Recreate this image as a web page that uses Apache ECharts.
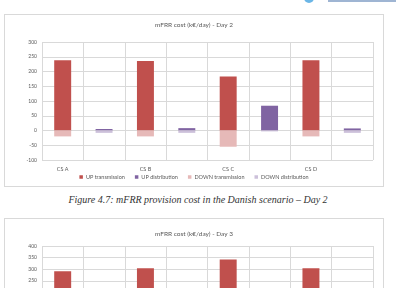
<!DOCTYPE html>
<html>
<head>
<meta charset="utf-8">
<script src="https://cdn.jsdelivr.net/npm/echarts@6/dist/echarts.min.js"></script>
<style>
  html, body { margin: 0; padding: 0; width: 396px; height: 288px; overflow: hidden; background: #fff; }
  .box { position: absolute; left: 4px; width: 378px; border: 1px solid #d9d9d9; background: #fff; }
  #chartDay2 { top: 14px; height: 171px; }
  #chartDay3 { top: 218px; height: 175px; }
  #caption { position: absolute; left: 0; width: 396px; top: 194px; text-align: center;
    font-family: "Liberation Serif", serif; font-style: italic; font-size: 10px; color: #333; }
  #logoDot { position: absolute; left: 304px; top: -7px; width: 10px; height: 10px; border-radius: 50%; background: #6bb6e6; }
  #logoText { position: absolute; left: 328px; top: 0; width: 68px; height: 2px; background: #2b5c9e; opacity: 0.45; }
</style>
</head>
<body>
<div id="logoDot"></div>
<div id="logoText"></div>
<div id="chartDay2" class="box"></div>
<div id="caption">Figure 4.7: mFRR provision cost in the Danish scenario – Day 2</div>
<div id="chartDay3" class="box"></div>
<script>
// 站点（每个站点两列：输电 / 配电）
const sites = ['CS A', 'CS B', 'CS C', 'CS D'];
const seriesNames = ['UP transmission', 'UP distribution', 'DOWN transmission', 'DOWN distribution'];
const seriesColors = ['#c0504d', '#8064a2', '#e6b9b8', '#ccc0da'];

// Day 2 数据 (k€/day)
const day2UpTransmission = [238, 236, 183, 238];
const day2UpDistribution = [5, 8, 84, 7];
const day2DownTransmission = [-20, -20, -55, -20];
const day2DownDistribution = [-8, -8, -3, -8];

// Day 3 数据 (k€/day)，下半部分在图片外
const day3UpTransmission = [291, 304, 342, 304];
const day3UpDistribution = [5, 8, 60, 7];
const day3DownTransmission = [-20, -20, -50, -20];
const day3DownDistribution = [-8, -8, -3, -8];

// 类目：每个站点占两列，标签只写在第一列
const categories = [];
sites.forEach(s => { categories.push(s); categories.push(''); });

// 把站点数据放到对应的列上（col 0 = 输电, col 1 = 配电）
function spread(values, col) {
  const out = [];
  values.forEach(v => {
    if (col === 0) { out.push(v); out.push('-'); }
    else { out.push('-'); out.push(v); }
  });
  return out;
}

const textColor = '#595959';
const gridColor = '#d9d9d9';
const font = 'Lato, "Open Sans", sans-serif';

function buildOption(title, up1, up2, down1, down2, yMin, yMax, gridTop, gridHeight, titleTop, showLegend) {
  const cols = [spread(up1, 0), spread(up2, 1), spread(down1, 0), spread(down2, 1)];
  return {
    animation: false,
    title: {
      text: title,
      left: 'center',
      top: titleTop,
      padding: 0,
      textStyle: { fontSize: 6.5, fontWeight: 'normal', color: textColor, fontFamily: font }
    },
    legend: {
      show: showLegend,
      bottom: 1,
      left: 'center',
      itemWidth: 3.5,
      itemHeight: 3.5,
      itemGap: 10,
      icon: 'rect',
      textStyle: { fontSize: 5.5, color: textColor, fontFamily: font, padding: [0, 0, 0, -2] },
      data: seriesNames
    },
    grid: { left: 37, right: 10, top: gridTop, height: gridHeight },
    xAxis: {
      type: 'category',
      data: categories,
      boundaryGap: true,
      axisLine: { show: false, onZero: false },
      axisTick: { show: false },
      axisLabel: { fontSize: 5.5, color: textColor, fontFamily: font, margin: 6, interval: 0 },
      splitLine: { show: true, interval: 0, lineStyle: { color: gridColor, width: 1 } }
    },
    yAxis: {
      type: 'value',
      min: yMin,
      max: yMax,
      interval: 50,
      axisLine: { show: false },
      axisTick: { show: false },
      axisLabel: { fontSize: 5, color: textColor, fontFamily: font, margin: 5 },
      splitLine: { lineStyle: { color: gridColor, width: 1 } }
    },
    series: cols.map((d, i) => ({
      name: seriesNames[i],
      type: 'bar',
      stack: 'cost',
      barWidth: '41%',
      itemStyle: { color: seriesColors[i] },
      data: d
    }))
  };
}

const chart2 = echarts.init(document.getElementById('chartDay2'));
chart2.setOption(buildOption('mFRR cost (k€/day) - Day 2',
  day2UpTransmission, day2UpDistribution, day2DownTransmission, day2DownDistribution,
  -100, 300, 27, 118, 6, true));

const chart3 = echarts.init(document.getElementById('chartDay3'));
chart3.setOption(buildOption('mFRR cost (k€/day) - Day 3',
  day3UpTransmission, day3UpDistribution, day3DownTransmission, day3DownDistribution,
  -100, 400, 27, 116, 11, false));
</script>
</body>
</html>
